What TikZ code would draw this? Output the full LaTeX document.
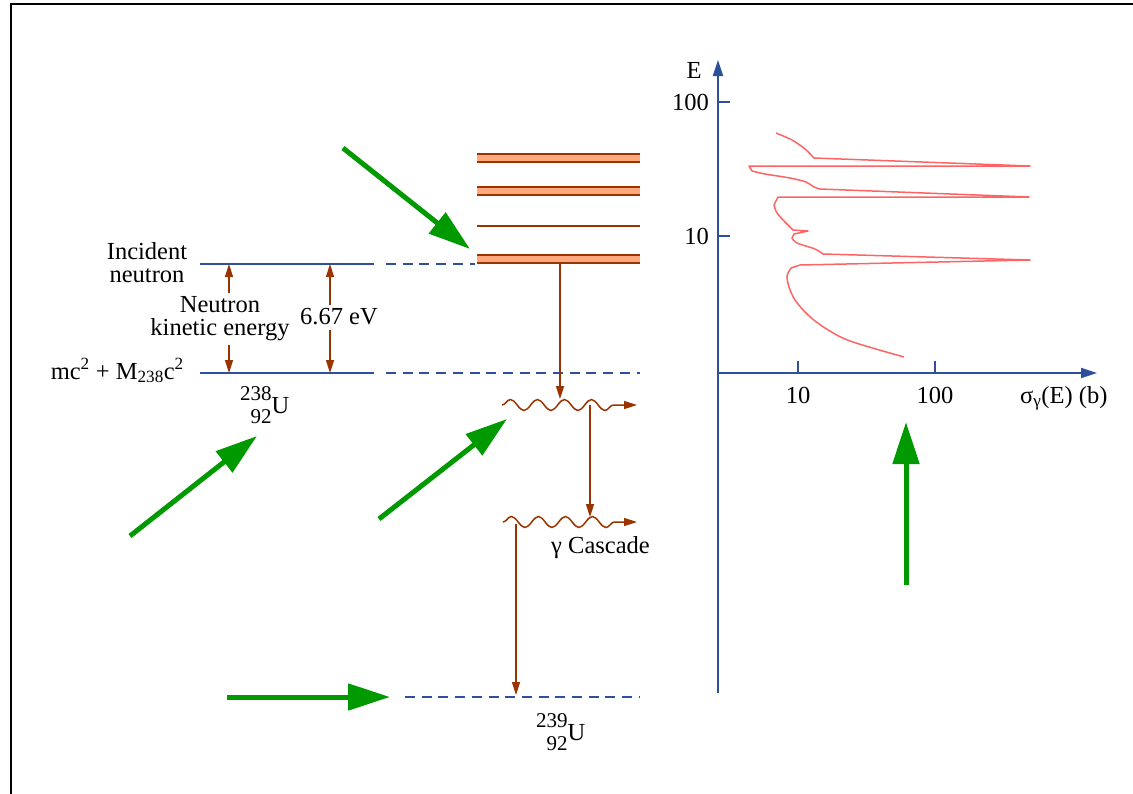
\documentclass[tikz,border=0pt]{standalone}
\usepackage{fontspec}
\setmainfont{Liberation Serif}
\usetikzlibrary{arrows.meta,decorations.pathmorphing}
\definecolor{lvblue}{RGB}{46,80,155}
\definecolor{lvbrown}{RGB}{153,51,0}
\definecolor{lvsalmon}{RGB}{255,168,128}
\definecolor{lvgreen}{RGB}{0,153,0}
\definecolor{lvred}{RGB}{255,100,100}
\newcommand{\nuclide}[3]{{\fontsize{21}{23}\selectfont\begin{tabular}[b]{@{}r@{}}#1\\#2\end{tabular}}\raisebox{10pt}{#3}}
\begin{document}
\begin{tikzpicture}[x=1pt, y=-1pt,
% common options for texts:
txt/.style = {inner sep=0, font=\fontsize{24.5}{23}\selectfont},
% common options for the levels:
level/.style = {draw=lvblue, line width=2pt},
dlevel/.style = {level, dash pattern=on 10pt off 6.7pt},
band/.style = {draw=lvbrown, line width=2pt, double=lvsalmon, double distance=6pt},
% common options for arrows:
bArrow/.style = {draw=lvbrown, line width=1.5pt, -{Triangle[length=13pt,width=8pt]}},
gArrow/.style = {draw=lvgreen, line width=5pt, -{Triangle[length=42pt,width=26pt]}},
wave/.style = {bArrow, decorate, decoration={snake, segment length=27pt, amplitude=5.5pt, post length=16pt}},
axis/.style = {draw=lvblue, line width=2pt, -{Triangle[length=16pt,width=10pt]}},
curve/.style = {draw=lvred, line width=1.5pt, line join=round}]
\useasboundingbox (0,0) rectangle (1133,793);
\draw[line width=2pt] (11,800) -- (11,4) -- (1140,4);
% levels
\coordinate (N0) at (200,264);
\coordinate (N1) at (374,264);
\coordinate (N2) at (386,264);
\coordinate (N3) at (475,264);
\coordinate (G0) at (200,373);
\coordinate (G1) at (374,373);
\coordinate (G2) at (386,373);
\coordinate (G3) at (640,373);
\coordinate (C0) at (405,697);
\coordinate (C1) at (640,697);
\draw[level] (N0) -- (N1);
\draw[dlevel] (N2) -- (N3);
\draw[level] (G0) -- (G1);
\draw[dlevel] (G2) -- (G3);
\draw[dlevel] (C0) -- (C1);
% resonances
\coordinate (R1a) at (477,158);
\coordinate (R1b) at (640,158);
\coordinate (R2a) at (477,191);
\coordinate (R2b) at (640,191);
\coordinate (R3a) at (477,226);
\coordinate (R3b) at (640,226);
\coordinate (R4a) at (477,259);
\coordinate (R4b) at (640,259);
\draw[band] (R1a) -- (R1b);
\draw[band] (R2a) -- (R2b);
\draw[draw=lvbrown, line width=2pt] (R3a) -- (R3b);
\draw[band] (R4a) -- (R4b);
% texts
\node[txt, align=center] (Inc) at (147,263) {Incident\\neutron};
\node[txt, anchor=base east] (Mass) at (184,379) {mc\textsuperscript{2} + M\textsubscript{238}c\textsuperscript{2}};
\node[txt, align=center, inner sep=4pt] (KE) at (220,319) {Neutron\\kinetic energy};
\node[txt, inner sep=4pt] (EV) at (339,317) {6.67 eV};
\node[txt, anchor=north west] (U238) at (240,384) {\nuclide{238}{92}{U}};
\node[txt, anchor=north west] (U239) at (536,711) {\nuclide{239}{92}{U}};
\node[txt, anchor=base west] (Casc) at (551,553) {γ Cascade};
% energy arrows
\coordinate (K0) at (229,264);
\coordinate (K1) at (229,373);
\coordinate (V0) at (330,264);
\coordinate (V1) at (330,373);
\draw[bArrow] (KE.north -| K0) -- (K0);
\draw[bArrow] (KE.south -| K1) -- (K1);
\draw[bArrow] (EV.north -| V0) -- (V0);
\draw[bArrow] (EV.south -| V1) -- (V1);
% gamma cascade
\coordinate (W1a) at (502,405);
\coordinate (W1b) at (637,405);
\coordinate (W2a) at (503,522);
\coordinate (W2b) at (637,522);
\draw[wave] (W1a) -- (W1b);
\draw[wave] (W2a) -- (W2b);
\coordinate (T0) at (560,264);
\coordinate (T1) at (560,399);
\coordinate (T2) at (590,405);
\coordinate (T3) at (590,517);
\coordinate (T4) at (516,524);
\coordinate (T5) at (516,695);
\draw[bArrow] (T0) -- (T1);
\draw[bArrow] (T2) -- (T3);
\draw[bArrow] (T4) -- (T5);
% green arrows
\coordinate (g1a) at (343,148);
\coordinate (g1b) at (470,249);
\coordinate (g2a) at (130,536);
\coordinate (g2b) at (257,436);
\coordinate (g3a) at (379,519);
\coordinate (g3b) at (507,419);
\coordinate (g4a) at (227,697);
\coordinate (g4b) at (390,697);
\coordinate (g5a) at (906,585);
\coordinate (g5b) at (906,422);
\draw[gArrow] (g1a) -- (g1b);
\draw[gArrow] (g2a) -- (g2b);
\draw[gArrow] (g3a) -- (g3b);
\draw[gArrow] (g4a) -- (g4b);
\draw[gArrow] (g5a) -- (g5b);
% cross section plot
\coordinate (O) at (718,373);
\coordinate (Ebot) at (718,693);
\coordinate (Etop) at (718,60);
\coordinate (Sx) at (1097,373);
\draw[axis] (Ebot) -- (Etop);
\draw[axis] (O) -- (Sx);
\draw[draw=lvblue, line width=2pt] (719,102) -- (730,102);
\draw[draw=lvblue, line width=2pt] (719,236) -- (730,236);
\draw[draw=lvblue, line width=2pt] (798,372) -- (798,361);
\draw[draw=lvblue, line width=2pt] (935,372) -- (935,361);
\node[txt, anchor=base] (Elab) at (694,78) {E};
\node[txt, anchor=east] (Y100) at (709,102) {100};
\node[txt, anchor=east] (Y10) at (709,236) {10};
\node[txt, anchor=base] (X10) at (798,403) {10};
\node[txt, anchor=base] (X100) at (935,403) {100};
\node[txt, anchor=base west] (Xlab) at (1020,403) {σ\textsubscript{γ}(E) (b)};
\draw[curve] plot[smooth] coordinates {(776,133) (792,140) (805,149) (814,158)}
  -- (1030,166) -- (749,166)
  -- plot[smooth] coordinates {(752,171) (765,174) (790,178) (806,182) (814,187) (820,189)}
  -- (1029,197) -- (778,197)
  -- plot[smooth] coordinates {(774,205) (777,213) (786,223) (793,230)}
  -- (808,231) -- (794,234)
  -- plot[smooth] coordinates {(792,238) (797,243) (815,249) (823,254)}
  -- (1030,260) -- (800,265)
  -- plot[smooth] coordinates {(791,268) (787,276) (789,287) (795,300) (808,315) (825,328) (850,341) (904,357)};
\end{tikzpicture}
\end{document}
